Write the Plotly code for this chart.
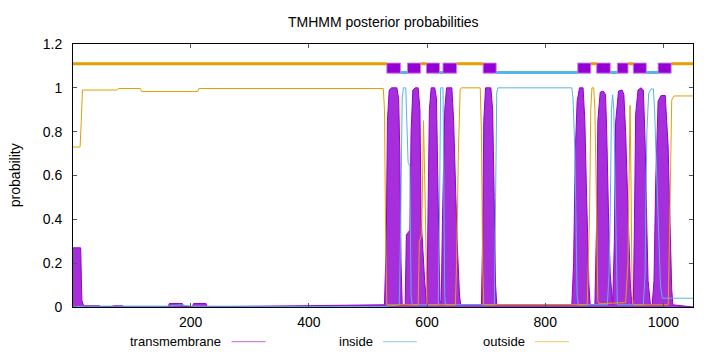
import plotly.graph_objects as go

# ---------------- data ----------------
seq_len = 1050

tm_pos = [1, 14, 16, 19, 45, 48, 66, 70, 84, 88, 162, 164, 186, 188, 203, 205, 226, 228,
          528, 531, 533, 536, 540, 549, 552, 554, 556, 558,
          563, 565, 571, 573, 576, 580, 585, 588, 590, 593, 596, 599,
          600, 602, 604, 607, 613, 616, 618, 620, 622,
          624, 626, 628, 630, 633, 642, 645, 647, 651, 655, 657,
          692, 694, 696, 699, 708, 711, 713, 716, 718,
          845, 848, 851, 854, 858, 864, 867, 870, 872, 874, 876,
          884, 887, 889, 893, 898, 902, 904, 907, 910, 914,
          915, 917, 919, 924, 930, 933, 936, 939, 941, 944, 947,
          949, 951, 953, 957, 962, 966, 969, 972, 974, 978,
          981, 984, 987, 991, 996, 1003, 1006, 1008, 1010, 1012, 1014, 1016, 1050]
tm_prob = [0.27, 0.27, 0.03, 0.006, 0.006, 0.002, 0.002, 0.006, 0.006, 0.001, 0.001, 0.016, 0.016, 0.002, 0.002, 0.016, 0.016, 0.001,
           0.01, 0.3, 0.85, 0.99, 1.0, 1.0, 0.95, 0.7, 0.2, 0.01,
           0.01, 0.33, 0.35, 0.8, 0.99, 1.0, 1.0, 0.9, 0.4, 0.25, 0.12, 0.02,
           0.05, 0.5, 0.9, 1.0, 1.0, 0.95, 0.7, 0.3, 0.03,
           0.02, 0.38, 0.6, 0.9, 1.0, 1.0, 0.85, 0.65, 0.3, 0.05, 0.01,
           0.01, 0.3, 0.85, 1.0, 1.0, 0.9, 0.6, 0.1, 0.01,
           0.01, 0.2, 0.72, 0.94, 1.0, 1.0, 0.85, 0.5, 0.25, 0.1, 0.01,
           0.01, 0.4, 0.85, 0.98, 0.985, 0.97, 0.8, 0.43, 0.15, 0.01,
           0.1, 0.3, 0.84, 0.985, 0.99, 0.97, 0.8, 0.5, 0.3, 0.1, 0.01,
           0.01, 0.4, 0.88, 0.99, 1.0, 0.99, 0.75, 0.35, 0.12, 0.01,
           0.01, 0.12, 0.58, 0.94, 0.965, 0.965, 0.85, 0.73, 0.5, 0.28, 0.08, 0.01, 0.0]

inside_pos = [1, 20, 160, 185, 200, 528, 553, 555, 558, 560, 564, 566, 568, 571, 573, 575,
              619, 621, 623, 627, 628, 630, 631,
              714, 716, 718, 720, 845, 847, 850, 852, 854, 856,
              905, 908, 910, 912, 914, 916, 918, 920, 922,
              966, 969, 970, 972, 975, 979, 983, 985, 987, 990, 992, 995, 998, 1050]
inside_prob = [0.0, 0.004, 0.004, 0.01, 0.004, 0.002, 0.01, 0.3, 0.95, 1.0, 1.0, 0.8, 0.66, 0.64, 0.05, 0.01,
               0.01, 0.4, 1.0, 1.0, 0.6, 0.05, 0.01,
               0.01, 0.5, 0.98, 1.0, 1.0, 0.95, 0.73, 0.4, 0.05, 0.01,
               0.01, 0.15, 0.43, 0.9, 0.968, 0.9, 0.58, 0.15, 0.01,
               0.01, 0.15, 0.43, 0.8, 0.975, 0.995, 0.995, 0.9, 0.73, 0.5, 0.275, 0.1, 0.04, 0.04]

outside_pos = [1, 13, 15, 17, 75, 78, 115, 117, 212, 214, 526, 528, 530, 532,
               585, 587, 591, 594, 596, 598, 600,
               648, 650, 653, 656, 658, 690, 692, 694, 696,
               871, 873, 875, 877, 879, 882, 884, 885, 887, 889, 891,
               936, 940, 942, 943.5, 945, 947, 949,
               1008, 1010, 1012, 1014, 1018, 1050]
outside_prob = [0.73, 0.73, 0.85, 0.99, 0.99, 0.997, 0.997, 0.983, 0.983, 0.997, 0.997, 0.9, 0.3, 0.01,
                0.01, 0.3, 0.33, 0.85, 0.6, 0.2, 0.01,
                0.01, 0.2, 0.7, 0.99, 1.0, 1.0, 0.8, 0.2, 0.01,
                0.01, 0.2, 0.43, 0.9, 1.0, 1.0, 0.9, 0.75, 0.3, 0.03, 0.015,
                0.02, 0.2, 0.6, 0.92, 0.6, 0.05, 0.01,
                0.01, 0.275, 0.7, 0.945, 0.963, 0.963]

# predicted topology (top bar)
helix_start = [532, 567, 599, 627, 695, 855, 887, 922, 949, 991]
helix_end = [555, 589, 621, 650, 717, 877, 910, 940, 971, 1013]
outside_seg_start = [1, 589, 650, 877, 940, 1013]
outside_seg_end = [532, 599, 695, 887, 949, 1050]
inside_seg_start = [555, 621, 717, 910, 971]
inside_seg_end = [567, 627, 855, 922, 991]

x_ticks = [200, 400, 600, 800, 1000]
y_ticks = [0, 0.2, 0.4, 0.6, 0.8, 1.0, 1.2]

legend_labels = ["transmembrane", "inside", "outside"]

# ---------------- styling ----------------
C_TM = "#9400D3"
C_IN = "#56B4E9"
C_OUT = "#E69F00"
FONT = "Liberation Sans, Arial, Helvetica, sans-serif"

fig = go.Figure()

# transmembrane probability (impulse-like filled area)
fig.add_trace(go.Scatter(x=tm_pos, y=tm_prob, mode="lines",
                         line=dict(color=C_TM, width=1),
                         fill="tozeroy", fillcolor="rgba(148,0,211,0.82)",
                         name="transmembrane"))
# inside
fig.add_trace(go.Scatter(x=inside_pos, y=inside_prob, mode="lines",
                         line=dict(color=C_IN, width=1), name="inside"))
# outside
fig.add_trace(go.Scatter(x=outside_pos, y=outside_prob, mode="lines",
                         line=dict(color=C_OUT, width=1), name="outside"))

# top topology bar
def seg_xy(starts, ends, yv):
    xs, ys = [], []
    for s, e in zip(starts, ends):
        xs += [s, e, None]
        ys += [yv, yv, None]
    return xs, ys

xo, yo = seg_xy(outside_seg_start, outside_seg_end, 1.11)
xi, yi = seg_xy(inside_seg_start, inside_seg_end, 1.07)
fig.add_trace(go.Scatter(x=xo, y=yo, mode="lines", line=dict(color=C_OUT, width=3),
                         hoverinfo="skip"))
fig.add_trace(go.Scatter(x=xi, y=yi, mode="lines", line=dict(color=C_IN, width=3),
                         hoverinfo="skip"))
bx, by = [], []
for s, e in zip(helix_start, helix_end):
    bx += [s, e, e, s, s, None]
    by += [1.067, 1.067, 1.113, 1.113, 1.067, None]
fig.add_trace(go.Scatter(x=bx, y=by, mode="lines", fill="toself",
                         fillcolor=C_TM, line=dict(color="rgba(200,120,235,0.9)", width=1),
                         hoverinfo="skip"))

fig.update_layout(
    width=720, height=352,
    margin=dict(l=73, r=27, t=44, b=45),
    plot_bgcolor="white", paper_bgcolor="white",
    showlegend=False,
    font=dict(family=FONT, size=13, color="black"),
)
axis_common = dict(showline=True, linecolor="black", linewidth=1, mirror="ticks",
                   ticks="inside", ticklen=4, tickcolor="#555", showgrid=False,
                   zeroline=False, tickfont=dict(family=FONT, size=14, color="black"))
fig.update_xaxes(range=[1, seq_len], tickvals=x_ticks, ticklabelstandoff=2, **axis_common)
fig.update_yaxes(range=[0, 1.2], tickvals=y_ticks, ticklabelstandoff=7, **axis_common)

# title
fig.add_annotation(text="TMHMM posterior probabilities", xref="paper", yref="paper",
                   x=0.5, y=(307 - 22) / 263, xanchor="center", yanchor="middle",
                   showarrow=False, font=dict(family=FONT, size=14, color="black"))
# y label
fig.add_annotation(text="probability", xref="paper", yref="paper",
                   x=(15 - 73.3) / 619.7, y=0.5, xanchor="center", yanchor="middle",
                   textangle=-90, showarrow=False, font=dict(family=FONT, size=14, color="black"))

# legend (text followed by a line sample, as in the reference)
leg_text_right = [223.3, 375, 527]
leg_line = [(231.7, 265.7), (383, 417), (535, 569)]
leg_colors = ["rgba(148,0,211,0.6)", "rgba(86,180,233,0.7)", "rgba(230,159,0,0.6)"]
ly = (307 - 341.7) / 263
for lab, tr, (l0, l1), col in zip(legend_labels, leg_text_right, leg_line, leg_colors):
    fig.add_annotation(text=lab, xref="paper", yref="paper", x=(tr - 73.3) / 619.7, y=ly,
                       xanchor="right", yanchor="middle", showarrow=False,
                       font=dict(family=FONT, size=13, color="black"))
    fig.add_shape(type="line", xref="paper", yref="paper",
                  x0=(l0 - 73.3) / 619.7, x1=(l1 - 73.3) / 619.7, y0=ly, y1=ly,
                  line=dict(color=col, width=1))

fig.write_html("out.html")
